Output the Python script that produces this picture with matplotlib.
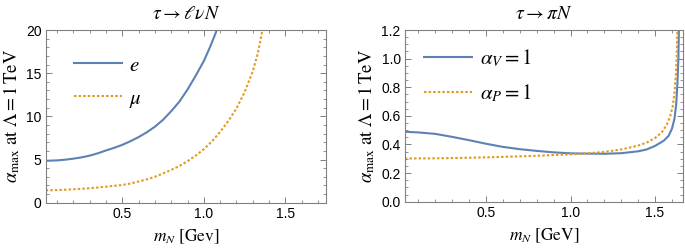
import numpy as np
import matplotlib
matplotlib.use('Agg')
import matplotlib.pyplot as plt
from matplotlib.ticker import MultipleLocator

plt.rcParams['mathtext.fontset'] = 'stix'
plt.rcParams['font.family'] = ['Liberation Sans', 'DejaVu Sans']

# left panel: tau -> l nu N
mN_e = [0.03, 0.1, 0.15, 0.2, 0.25, 0.3, 0.35, 0.4, 0.45, 0.5, 0.55, 0.6, 0.65, 0.7,
        0.75, 0.8, 0.85, 0.9, 0.95, 1.0, 1.04, 1.08]
alpha_e = [4.85, 4.9, 4.98, 5.1, 5.25, 5.45, 5.72, 6.05, 6.35, 6.7, 7.12, 7.6, 8.15, 8.8,
           9.6, 10.6, 11.7, 13.1, 14.7, 16.4, 18.1, 20.0]
mN_mu = [0.03, 0.1, 0.2, 0.3, 0.4, 0.5, 0.55, 0.6, 0.65, 0.7, 0.75, 0.8, 0.85, 0.9,
         0.95, 1.0, 1.05, 1.1, 1.15, 1.2, 1.25, 1.3, 1.33, 1.36]
alpha_mu = [1.43, 1.46, 1.55, 1.67, 1.85, 2.05, 2.22, 2.45, 2.7, 3.0, 3.38, 3.8, 4.25, 4.8,
            5.45, 6.2, 7.1, 8.2, 9.45, 10.9, 12.8, 15.2, 17.2, 20.0]

# right panel: tau -> pi N
mN_V = [0.02, 0.1, 0.2, 0.3, 0.4, 0.5, 0.6, 0.7, 0.8, 0.9, 1.0, 1.1, 1.2, 1.3, 1.4,
        1.45, 1.5, 1.55, 1.58, 1.60, 1.615, 1.625, 1.632, 1.638, 1.641]
alpha_V = [0.489, 0.484, 0.474, 0.453, 0.43, 0.405, 0.383, 0.367, 0.355, 0.345, 0.338,
           0.336, 0.335, 0.339, 0.352, 0.365, 0.39, 0.425, 0.46, 0.51, 0.58, 0.68, 0.82,
           1.0, 1.2]
mN_P = [0.02, 0.2, 0.4, 0.6, 0.8, 1.0, 1.1, 1.2, 1.3, 1.4, 1.45, 1.5, 1.54, 1.57,
        1.59, 1.605, 1.615, 1.622, 1.628, 1.632]
alpha_P = [0.302, 0.303, 0.307, 0.313, 0.321, 0.331, 0.338, 0.348, 0.365, 0.392, 0.413,
           0.445, 0.485, 0.54, 0.6, 0.67, 0.76, 0.87, 1.0, 1.2]

blue = '#5E81B5'
orange = '#E19C24'
dotted = (0, (1.2, 1.0))

fig = plt.figure(figsize=(6.85, 2.49), dpi=100)
ax1 = fig.add_axes([0.0667, 0.186, 0.4093, 0.6935])
ax2 = fig.add_axes([0.591, 0.19, 0.4065, 0.6895])

ax1.plot(mN_e, alpha_e, color=blue, lw=1.5, label=r'$e$')
ax1.plot(mN_mu, alpha_mu, color=orange, lw=1.5, ls=dotted, label=r'$\mu$')
ax1.set_xlim(0.03, 1.75)
ax1.set_ylim(0, 20)
ax1.xaxis.set_major_locator(MultipleLocator(0.5))
ax1.xaxis.set_minor_locator(MultipleLocator(0.1))
ax1.yaxis.set_major_locator(MultipleLocator(5))
ax1.yaxis.set_minor_locator(MultipleLocator(1))
ax1.set_title(r'$\tau \to \ell \nu N$', fontsize=14, pad=8)
ax1.set_xlabel(r'$m_N\ [\mathrm{Gev}]$', fontsize=12.5, labelpad=5)

ax2.plot(mN_V, alpha_V, color=blue, lw=1.5, label=r'$\alpha_V = 1$')
ax2.plot(mN_P, alpha_P, color=orange, lw=1.5, ls=dotted, label=r'$\alpha_P = 1$')
ax2.set_xlim(0.02, 1.667)
ax2.set_ylim(0, 1.2)
ax2.xaxis.set_major_locator(MultipleLocator(0.5))
ax2.xaxis.set_minor_locator(MultipleLocator(0.1))
ax2.yaxis.set_major_locator(MultipleLocator(0.2))
ax2.yaxis.set_minor_locator(MultipleLocator(0.05))
ax2.yaxis.set_major_formatter(plt.FormatStrFormatter('%.1f'))
ax2.set_title(r'$\tau \to \pi N$', fontsize=14, pad=8)
ax2.set_xlabel(r'$m_N\ [\mathrm{GeV}]$', fontsize=12.5, labelpad=5)

for ax in (ax1, ax2):
    ax.set_ylabel(r'$\alpha_{\max}\ \mathrm{at}\ \Lambda = 1\,\mathrm{TeV}$', fontsize=13.5, labelpad=3)
    ax.tick_params(which='both', direction='in', top=True, right=True,
                   labelsize=10, color='#808080', pad=3)
    ax.tick_params(which='major', length=4, width=0.7)
    ax.tick_params(which='minor', length=2, width=0.6)
    for sp in ax.spines.values():
        sp.set_color('#808080')
        sp.set_linewidth(0.8)

ax1.legend(loc='upper left', frameon=False, fontsize=15, handlelength=2.3,
           handletextpad=0.35, labelspacing=0.68, bbox_to_anchor=(0.07, 0.9),
           borderaxespad=0.0)
ax2.legend(loc='upper left', frameon=False, fontsize=15, handlelength=2.3,
           handletextpad=0.35, labelspacing=0.68, bbox_to_anchor=(0.04, 0.95),
           borderaxespad=0.0)

fig.savefig('out.png', dpi=100)
